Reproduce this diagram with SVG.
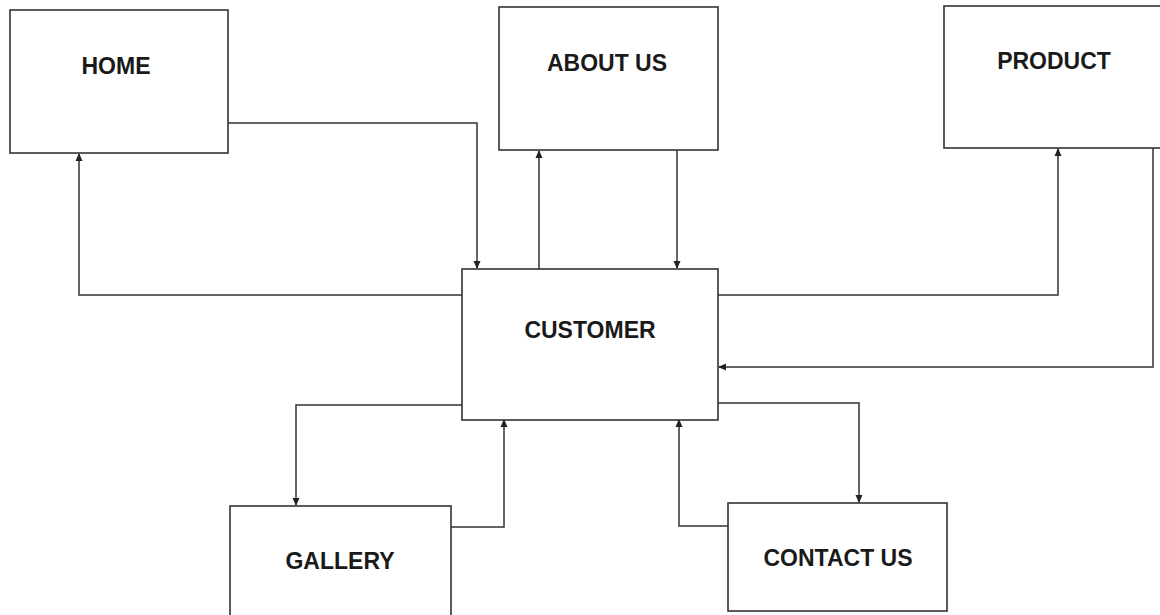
<svg xmlns="http://www.w3.org/2000/svg" width="1160" height="615" viewBox="0 0 1160 615">
<style>
.box{fill:#fff;stroke:#333;stroke-width:1.6}
.lbl{font-family:"Liberation Sans",Arial,sans-serif;font-weight:bold;font-size:23px;fill:#1a1a1a;text-anchor:middle}
.con{fill:none;stroke:#333;stroke-width:1.5;marker-end:url(#ah)}
</style>
<defs>
<marker id="ah" markerWidth="8" markerHeight="8" refX="7" refY="4" orient="auto" markerUnits="userSpaceOnUse">
<path d="M0,0.5 L8,4 L0,7.5 Z" fill="#222"/>
</marker>
</defs>
<rect width="1160" height="615" fill="#fff"/>
<g id="connectors">
<path class="con" d="M228,123 H477 V268"/>
<path class="con" d="M462,295 H79 V154"/>
<path class="con" d="M539,269 V151"/>
<path class="con" d="M677,150 V268"/>
<path class="con" d="M718,295 H1058 V149"/>
<path class="con" d="M1153,148 V367 H719"/>
<path class="con" d="M462,405 H296 V505"/>
<path class="con" d="M451,527 H504 V420"/>
<path class="con" d="M718,403 H859 V502"/>
<path class="con" d="M728,526 H679 V420"/>
</g>
<g id="home">
<rect class="box" x="10" y="10" width="218" height="143"/>
<text class="lbl" x="116" y="74">HOME</text>
</g>
<g id="about">
<rect class="box" x="499" y="7" width="219" height="143"/>
<text class="lbl" x="607" y="71">ABOUT US</text>
</g>
<g id="product">
<rect class="box" x="944" y="6" width="230" height="142"/>
<text class="lbl" x="1054" y="69">PRODUCT</text>
</g>
<g id="customer">
<rect class="box" x="462" y="269" width="256" height="151"/>
<text class="lbl" x="590" y="338">CUSTOMER</text>
</g>
<g id="gallery">
<rect class="box" x="230" y="506" width="221" height="120"/>
<text class="lbl" x="340" y="569">GALLERY</text>
</g>
<g id="contact">
<rect class="box" x="728" y="503" width="219" height="108"/>
<text class="lbl" x="838" y="566">CONTACT US</text>
</g>
</svg>
